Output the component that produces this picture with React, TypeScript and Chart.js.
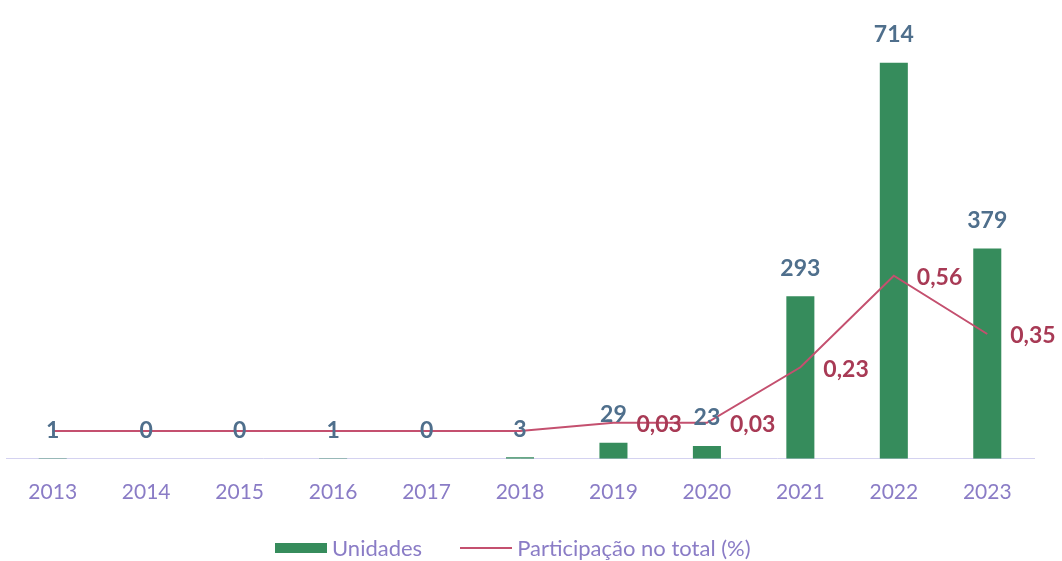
import React, { useEffect, useRef } from "react";
import { Chart, registerables } from "chart.js";

Chart.register(...registerables);

const years = ["2013", "2014", "2015", "2016", "2017", "2018", "2019", "2020", "2021", "2022", "2023"];
const unidades = [1, 0, 0, 1, 0, 3, 29, 23, 293, 714, 379];
const participacao = [0, 0, 0, 0, 0, 0, 0.03, 0.03, 0.23, 0.56, 0.35];

const BAR_COLOR = "#368c5c";
const LINE_COLOR = "#c4506f";
const BAR_LABEL_COLOR = "#4f6f8c";
const LINE_LABEL_COLOR = "#a83a55";
const AXIS_LABEL_COLOR = "#8a7cc6";
const FONT = "Lato, 'Open Sans', sans-serif";

const labelPlugin = {
  id: "valueLabels",
  afterDatasetsDraw(chart: any) {
    const ctx = chart.ctx;
    ctx.save();
    const barMeta = chart.getDatasetMeta(1);
    ctx.font = `bold 23px ${FONT}`;
    ctx.fillStyle = BAR_LABEL_COLOR;
    ctx.textAlign = "center";
    ctx.textBaseline = "middle";
    barMeta.data.forEach((el: any, i: number) => {
      ctx.fillText(String(unidades[i]), el.x, el.y - 28);
    });
    const lineMeta = chart.getDatasetMeta(0);
    ctx.font = `bold 23px ${FONT}`;
    ctx.fillStyle = LINE_LABEL_COLOR;
    ctx.textAlign = "left";
    lineMeta.data.forEach((el: any, i: number) => {
      const v = participacao[i];
      if (v > 0) {
        ctx.fillText(v.toFixed(2).replace(".", ","), el.x + 23, el.y + 2);
      }
    });
    ctx.restore();
  },
};

export default function App() {
  const ref = useRef<HTMLCanvasElement>(null);
  useEffect(() => {
    if (!ref.current) return;
    const chart = new Chart(ref.current, {
      type: "bar",
      data: {
        labels: years,
        datasets: [
          {
            type: "line",
            label: "Participação no total (%)",
            data: participacao,
            borderColor: LINE_COLOR,
            backgroundColor: LINE_COLOR,
            borderWidth: 2,
            pointRadius: 0,
            tension: 0,
            yAxisID: "y1",
            order: 0,
          },
          {
            type: "bar",
            label: "Unidades",
            data: unidades,
            backgroundColor: BAR_COLOR,
            barPercentage: 0.6,
            categoryPercentage: 0.5,
            yAxisID: "y",
            order: 1,
          },
        ] as any,
      },
      options: {
        responsive: false,
        animation: false,
        layout: { padding: { left: 6, right: 28, top: 15, bottom: 35 } },
        plugins: { legend: { display: false }, tooltip: { enabled: false } },
        scales: {
          x: {
            grid: { display: false, drawTicks: false },
            border: { display: true, color: "#d4d2f0", width: 1 },
            ticks: { color: AXIS_LABEL_COLOR, font: { family: FONT, size: 21 }, padding: 21 },
          },
          y: { display: false, min: 0, max: 800 },
          y1: { display: false, min: -0.1, max: 1.5 },
        },
      },
      plugins: [labelPlugin],
    });
    return () => chart.destroy();
  }, []);

  return (
    <div style={{ position: "absolute", left: 0, top: 0, width: 1062, height: 561, background: "#fff" }}>
      <canvas ref={ref} width={1062} height={561} style={{ display: "block" }} />
      <div
        style={{
          position: "absolute",
          top: 534,
          left: 275,
          display: "flex",
          alignItems: "center",
          fontFamily: FONT,
          fontSize: 22,
          color: AXIS_LABEL_COLOR,
          whiteSpace: "nowrap",
        }}
      >
        <span style={{ display: "inline-block", width: 52, height: 10, background: BAR_COLOR, marginRight: 5 }} />
        <span>Unidades</span>
        <span style={{ display: "inline-block", width: 52, height: 2, background: LINE_COLOR, marginLeft: 38, marginRight: 5 }} />
        <span>Participação no total (%)</span>
      </div>
    </div>
  );
}
